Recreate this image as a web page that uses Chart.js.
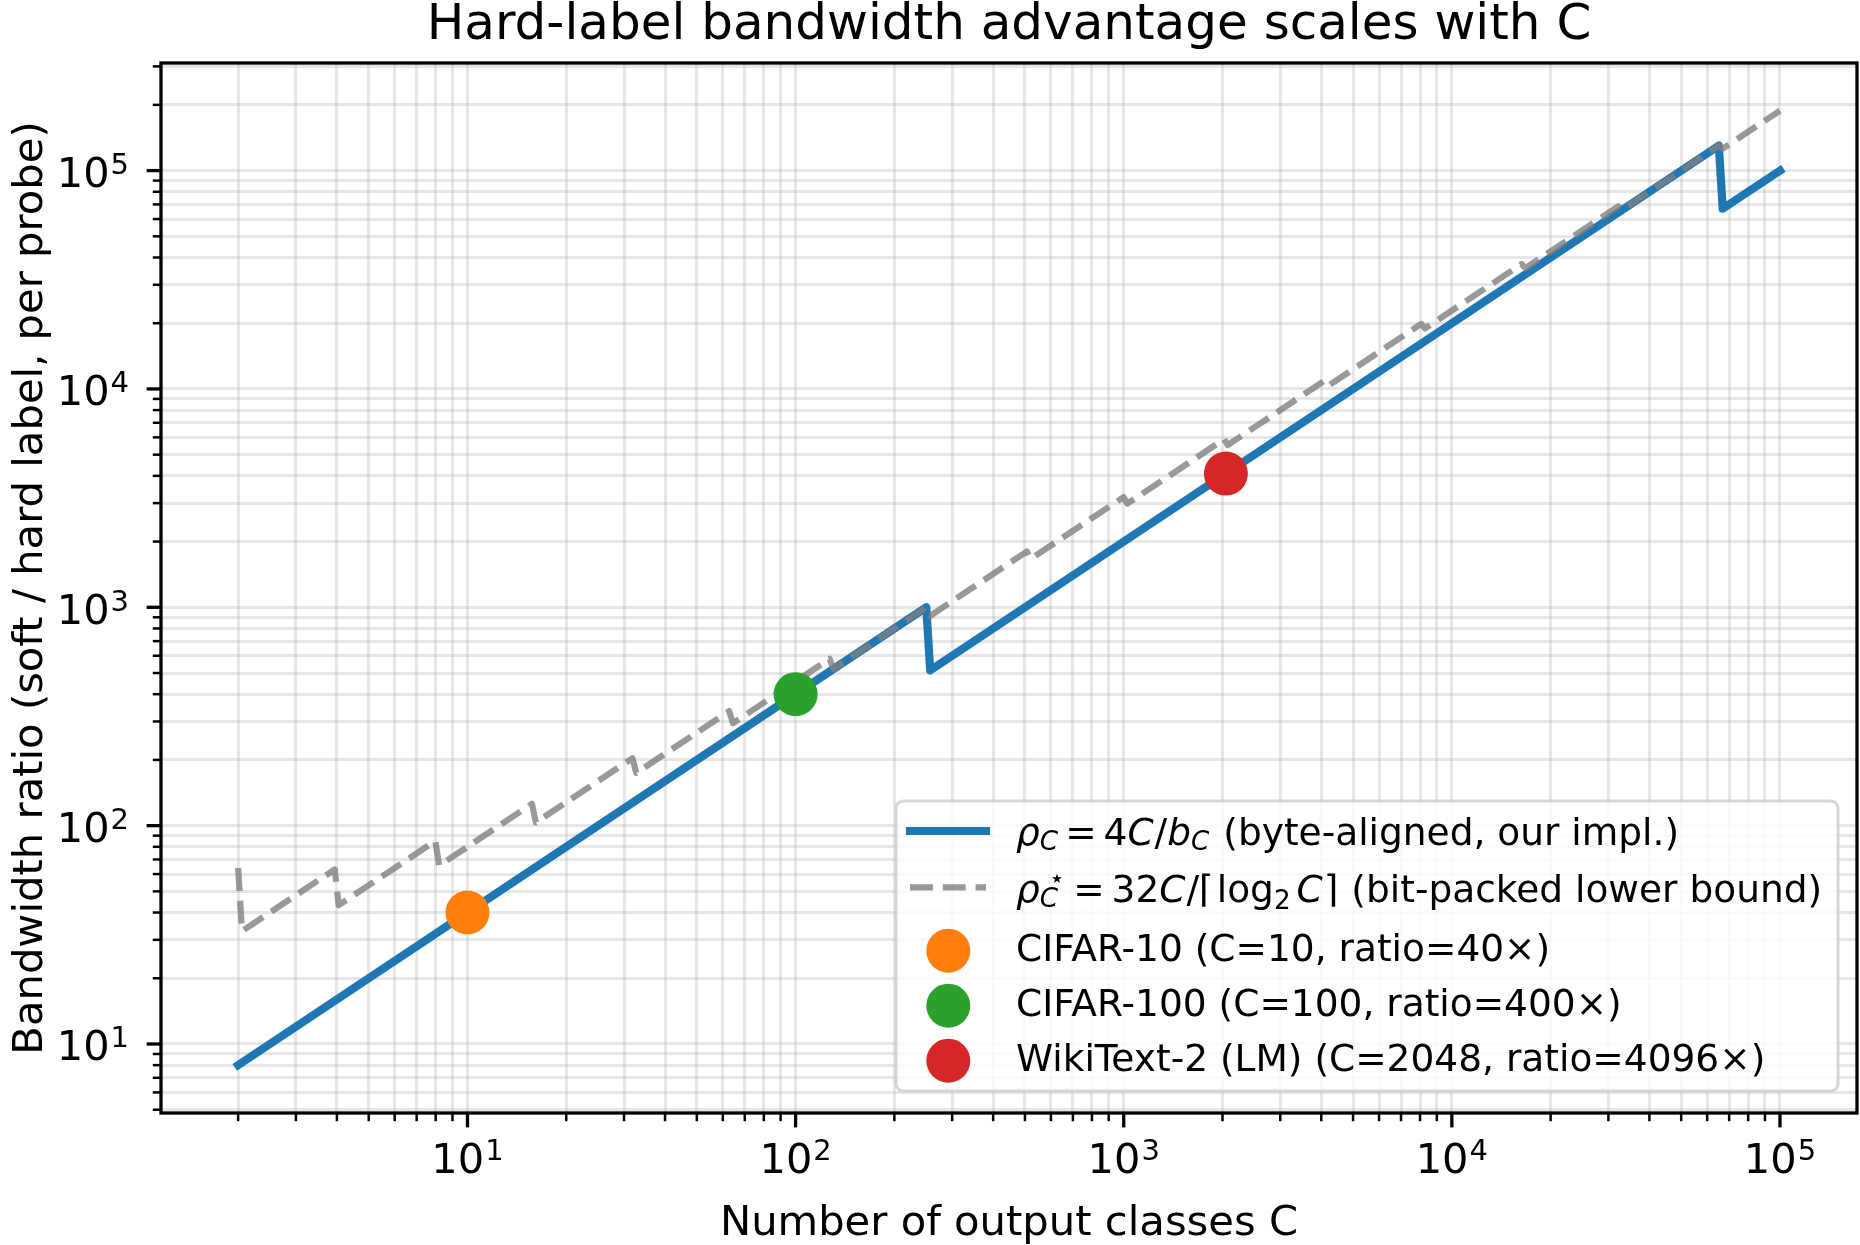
<!DOCTYPE html>
<html>
<head>
<meta charset="utf-8">
<title>Hard-label bandwidth advantage scales with C</title>
<script src="https://cdn.jsdelivr.net/npm/chart.js@4.4.1/dist/chart.umd.min.js"></script>
<style>
  html, body { margin: 0; padding: 0; background: #fff; }
  #chart { display: block; }
</style>
</head>
<body>
<canvas id="chart" width="1860" height="1245"></canvas>
<script>
// ── Data ──────────────────────────────────────────────────────
// byte-aligned ratio: corner points of the piecewise curve
const BYTE_C     = [2, 250.2, 257.1, 65120, 66911, 100000];
const BYTE_RATIO = [8, 1000.8, 514.2, 130240, 66911, 100000];

// bit-packed lower bound: corner points (before / after each power of two)
const BIT_C = [2, 2.055, 3.94, 4.05, 7.98, 8.2, 15.72, 16.16, 31.82, 32.7,
  62.72, 64.45, 127.0, 130.5, 250.2, 257.1, 506.6, 520.5, 999.2, 1026.7,
  2021.8, 2077.4, 4092, 4204.5, 8063, 8285, 16320, 16769, 32156, 33041,
  65120, 66911, 100000];
const BIT_RATIO = [64, 32.9, 63.0, 43.2, 85.1, 65.6, 125.8, 103.4, 203.6, 174.4,
  334.5, 294.6, 580.6, 522, 1000.8, 914.1, 1801, 1665.6, 3197, 2986.8,
  5881.6, 5539.7, 10912, 10349.5, 19848, 18937, 37303, 35774, 68600, 66082,
  130240, 125950, 188235];

const POINT_NAMES  = ['CIFAR-10', 'CIFAR-100', 'WikiText-2 (LM)'];
const POINT_C      = [10, 100, 2048];
const POINT_RATIO  = [40, 400, 4096];
const POINT_COLORS = ['#ff7f0e', '#2ca02c', '#d62728'];

const TICK_VALUES    = [10, 100, 1000, 10000, 100000];
const TICK_EXPONENTS = ['1', '2', '3', '4', '5'];

const X_RANGE = [1.164, 171700];
const Y_RANGE = [4.83, 311000];

const TITLE   = 'Hard-label bandwidth advantage scales with C';
const X_TITLE = 'Number of output classes C';
const Y_TITLE = 'Bandwidth ratio (soft / hard label, per probe)';

// ── Helpers ───────────────────────────────────────────────────
const FAMILY = '"DejaVu Sans", sans-serif';
function font(size, italic) {
  return (italic ? 'italic ' : '') + size + 'px ' + FAMILY;
}

function toPoints(xs, ys) {
  return xs.map((x, i) => ({ x, y: ys[i] }));
}

function logTicks(min, max) {
  const ticks = [];
  for (let e = -1; e <= 6; e++) {
    for (let m = 1; m <= 9; m++) {
      const v = m * Math.pow(10, e);
      if (v >= min && v <= max) ticks.push({ value: v, major: m === 1 });
    }
  }
  return ticks;
}

// draw a row of text runs (simple mathtext look-alike)
function drawRuns(ctx, runs, x, y, size) {
  let cx = x;
  runs.forEach(r => {
    cx += r.gap || 0;
    ctx.font = font(size * (r.scale || 1), r.it);
    ctx.fillText(r.t, cx + (r.dx || 0), y + (r.dy || 0));
    if (!r.hold) cx += ctx.measureText(r.t).width;
  });
}

const SUB = { scale: 0.7, dy: 5, it: true };

const LEGEND_ROWS = [
  [
    { t: 'ρ', it: true }, Object.assign({ t: 'C' }, SUB),
    { t: '=', gap: 7 }, { t: '4', gap: 7 }, { t: 'C', it: true }, { t: '/', gap: 1 },
    { t: 'b', it: true }, Object.assign({ t: 'C' }, SUB),
    { t: ' (byte-aligned, our impl.)', gap: 2 }
  ],
  [
    { t: 'ρ', it: true }, { t: '⋆', scale: 0.7, dy: -15, dx: 9, hold: true },
    Object.assign({ t: 'C' }, SUB),
    { t: '=', gap: 15 }, { t: '32', gap: 7 }, { t: 'C', it: true }, { t: '/', gap: 1 },
    { t: '⌈' }, { t: 'log', gap: 3 }, { t: '2', scale: 0.7, dy: 7 },
    { t: 'C', it: true, gap: 6 }, { t: '⌉', gap: 1 },
    { t: ' (bit-packed lower bound)', gap: 1 }
  ]
].concat(POINT_NAMES.map((n, i) =>
  [{ t: `${n} (C=${POINT_C[i]}, ratio=${POINT_RATIO[i]}×)` }]));

// ── Decorations: frame, ticks, labels, title, legend ──────────
const decorations = {
  id: 'decorations',
  afterDraw(chart) {
    const ctx = chart.ctx;
    const a = chart.chartArea;
    const xs = chart.scales.x, ys = chart.scales.y;
    ctx.save();
    ctx.strokeStyle = '#000';
    ctx.fillStyle = '#000';

    // tick marks
    xs.ticks.forEach(t => {
      const px = xs.getPixelForValue(t.value);
      ctx.lineWidth = t.major ? 3.3 : 2.5;
      ctx.beginPath();
      ctx.moveTo(px, a.bottom);
      ctx.lineTo(px, a.bottom + (t.major ? 14.4 : 8.2));
      ctx.stroke();
    });
    ys.ticks.forEach(t => {
      const py = ys.getPixelForValue(t.value);
      ctx.lineWidth = t.major ? 3.3 : 2.5;
      ctx.beginPath();
      ctx.moveTo(a.left, py);
      ctx.lineTo(a.left - (t.major ? 14.4 : 8.2), py);
      ctx.stroke();
    });

    // frame
    ctx.lineWidth = 3.3;
    ctx.strokeRect(a.left, a.top, a.right - a.left, a.bottom - a.top);

    // tick labels 10^n
    ctx.textBaseline = 'alphabetic';
    ctx.textAlign = 'left';
    TICK_VALUES.forEach((v, i) => {
      ctx.font = font(41.5);
      const wb = ctx.measureText('10').width;
      ctx.font = font(29);
      const we = ctx.measureText(TICK_EXPONENTS[i]).width;
      const w = wb + we + 1;

      const px = xs.getPixelForValue(v);
      let x0 = px - w / 2;
      ctx.font = font(41.5);
      ctx.fillText('10', x0, 1173);
      ctx.font = font(29);
      ctx.fillText(TICK_EXPONENTS[i], x0 + wb + 1, 1160);

      const py = ys.getPixelForValue(v);
      x0 = 129 - w;
      ctx.font = font(41.5);
      ctx.fillText('10', x0, py + 16.5);
      ctx.font = font(29);
      ctx.fillText(TICK_EXPONENTS[i], x0 + wb + 1, py + 3.5);
    });

    // title + axis titles
    const cxArea = (a.left + a.right) / 2;
    ctx.textAlign = 'center';
    ctx.font = font(50);
    ctx.fillText(TITLE, cxArea, 38.5);
    ctx.font = font(41.7);
    ctx.fillText(X_TITLE, cxArea, 1235);
    ctx.save();
    ctx.translate(41.5, (a.top + a.bottom) / 2);
    ctx.rotate(-Math.PI / 2);
    ctx.fillText(Y_TITLE, 0, 0);
    ctx.restore();

    // legend
    const L = { x0: 896, y0: 801, x1: 1838, y1: 1091, r: 7.4 };
    ctx.beginPath();
    ctx.roundRect(L.x0, L.y0, L.x1 - L.x0, L.y1 - L.y0, L.r);
    ctx.fillStyle = 'rgba(255,255,255,0.8)';
    ctx.fill();
    ctx.lineWidth = 3;
    ctx.strokeStyle = 'rgba(204,204,204,0.8)';
    ctx.stroke();

    const ds = chart.data.datasets;
    const rowMid  = [831, 887.3, 950.7, 1005.7, 1060.7];
    const rowBase = [845, 901.5, 960.7, 1015.7, 1071];
    ds.forEach((d, i) => {
      ctx.save();
      if (d.showLine === false) {
        ctx.fillStyle = d.pointBackgroundColor;
        ctx.beginPath();
        ctx.arc(948.3, rowMid[i], d.pointRadius, 0, Math.PI * 2);
        ctx.fill();
      } else {
        ctx.strokeStyle = d.borderColor;
        ctx.lineWidth = d.borderWidth;
        ctx.lineCap = d.borderCapStyle;
        ctx.setLineDash(d.borderDash || []);
        ctx.beginPath();
        ctx.moveTo(910, rowMid[i]);
        ctx.lineTo(986, rowMid[i]);
        ctx.stroke();
      }
      ctx.restore();
      ctx.fillStyle = '#000';
      ctx.textAlign = 'left';
      drawRuns(ctx, LEGEND_ROWS[i], 1016, rowBase[i], 37.5);
    });
    ctx.restore();
  }
};

// ── Chart ─────────────────────────────────────────────────────
const GRID = { color: 'rgba(176,176,176,0.3)', lineWidth: 3, drawTicks: false };

const chart = new Chart(document.getElementById('chart'), {
  type: 'line',
  data: {
    datasets: [
      {
        label: 'byte-aligned',
        data: toPoints(BYTE_C, BYTE_RATIO),
        borderColor: '#1f77b4',
        borderWidth: 8.2,
        borderCapStyle: 'square',
        borderJoinStyle: 'round',
        pointRadius: 0,
        order: 3
      },
      {
        label: 'bit-packed',
        data: toPoints(BIT_C, BIT_RATIO),
        borderColor: 'rgba(128,128,128,0.8)',
        borderWidth: 6.2,
        borderDash: [22.9, 9.9],
        borderCapStyle: 'butt',
        borderJoinStyle: 'round',
        pointRadius: 0,
        order: 2
      }
    ].concat(POINT_NAMES.map((name, i) => ({
      label: name,
      data: [{ x: POINT_C[i], y: POINT_RATIO[i] }],
      showLine: false,
      pointRadius: 22,
      pointBackgroundColor: POINT_COLORS[i],
      pointBorderWidth: 0,
      order: 1
    })))
  },
  options: {
    responsive: false,
    animation: false,
    devicePixelRatio: 1,
    layout: { autoPadding: false, padding: { top: 63, right: 3, left: 0, bottom: 0 } },
    plugins: {
      legend: { display: false },
      tooltip: { enabled: false },
      title: { display: false }
    },
    scales: {
      x: {
        type: 'logarithmic',
        min: X_RANGE[0], max: X_RANGE[1],
        ticks: { display: false },
        grid: GRID,
        border: { display: false },
        afterBuildTicks: s => { s.ticks = logTicks(X_RANGE[0], X_RANGE[1]); },
        afterFit: s => { s.height = 132; }
      },
      y: {
        type: 'logarithmic',
        min: Y_RANGE[0], max: Y_RANGE[1],
        ticks: { display: false },
        grid: GRID,
        border: { display: false },
        afterBuildTicks: s => { s.ticks = logTicks(Y_RANGE[0], Y_RANGE[1]); },
        afterFit: s => { s.width = 161; }
      }
    }
  },
  plugins: [decorations]
});
</script>
</body>
</html>
